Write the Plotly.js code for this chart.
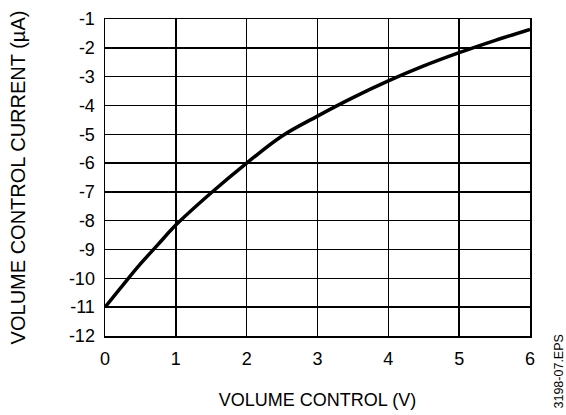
<!DOCTYPE html>
<html>
<head>
<meta charset="utf-8">
<script src="https://cdn.plot.ly/plotly-3.0.1.min.js"></script>
<style>html,body{margin:0;padding:0;background:#fff;}#chart{width:566px;height:415px;}</style>
</head>
<body>
<div id="chart"></div>
<script>
var voltage = [0, 0.25, 0.5, 0.75, 1, 1.5, 2, 2.5, 3, 3.5, 4, 4.5, 5, 5.5, 6];
var current = [-11, -10.24, -9.5, -8.82, -8.15, -7.03, -6.0, -5.06, -4.37, -3.73, -3.15, -2.63, -2.17, -1.75, -1.36];
var xTicks = [0, 1, 2, 3, 4, 5, 6];
var yTicks = [-12, -11, -10, -9, -8, -7, -6, -5, -4, -3, -2, -1];

var trace = {
  x: voltage, y: current, mode: 'lines', type: 'scatter',
  line: {color: '#000', width: 3.5, shape: 'spline', smoothing: 1},
  hoverinfo: 'skip', showlegend: false
};
var font = {family: 'Liberation Sans, Arial, sans-serif', color: '#000', size: 18};
var layout = {
  width: 566, height: 415,
  margin: {l: 105, r: 36, t: 18.5, b: 78.5},
  paper_bgcolor: '#fff', plot_bgcolor: '#fff',
  font: font,
  xaxis: {
    range: [0, 6], tickvals: xTicks, ticktext: xTicks.map(String),
    showgrid: true, gridcolor: '#000', gridwidth: 1.5,
    zeroline: false, showline: true, linecolor: '#000', linewidth: 1.5, mirror: true,
    ticks: 'outside', ticklen: 6, tickcolor: 'rgba(0,0,0,0)',
    tickfont: {size: 18},
    title: {text: 'VOLUME CONTROL (V)', font: {size: 18}, standoff: 25}
  },
  yaxis: {
    range: [-12, -1], tickvals: yTicks, ticktext: yTicks.map(String),
    showgrid: true, gridcolor: '#000', gridwidth: 1.5,
    zeroline: false, showline: true, linecolor: '#000', linewidth: 1.5, mirror: true,
    ticks: 'outside', ticklen: 5, tickcolor: 'rgba(0,0,0,0)',
    tickfont: {size: 18},
    title: {text: 'VOLUME CONTROL CURRENT (µA)', font: {size: 20}, standoff: 38}
  },
  annotations: [{
    text: '3198-07.EPS', xref: 'paper', yref: 'paper', x: 1, y: -0.235,
    xanchor: 'center', yanchor: 'bottom', textangle: -90, showarrow: false,
    xshift: 29, font: {size: 12.5, color: '#000'}
  }]
};
Plotly.newPlot('chart', [trace], layout, {displayModeBar: false, staticPlot: true});
</script>
</body>
</html>
